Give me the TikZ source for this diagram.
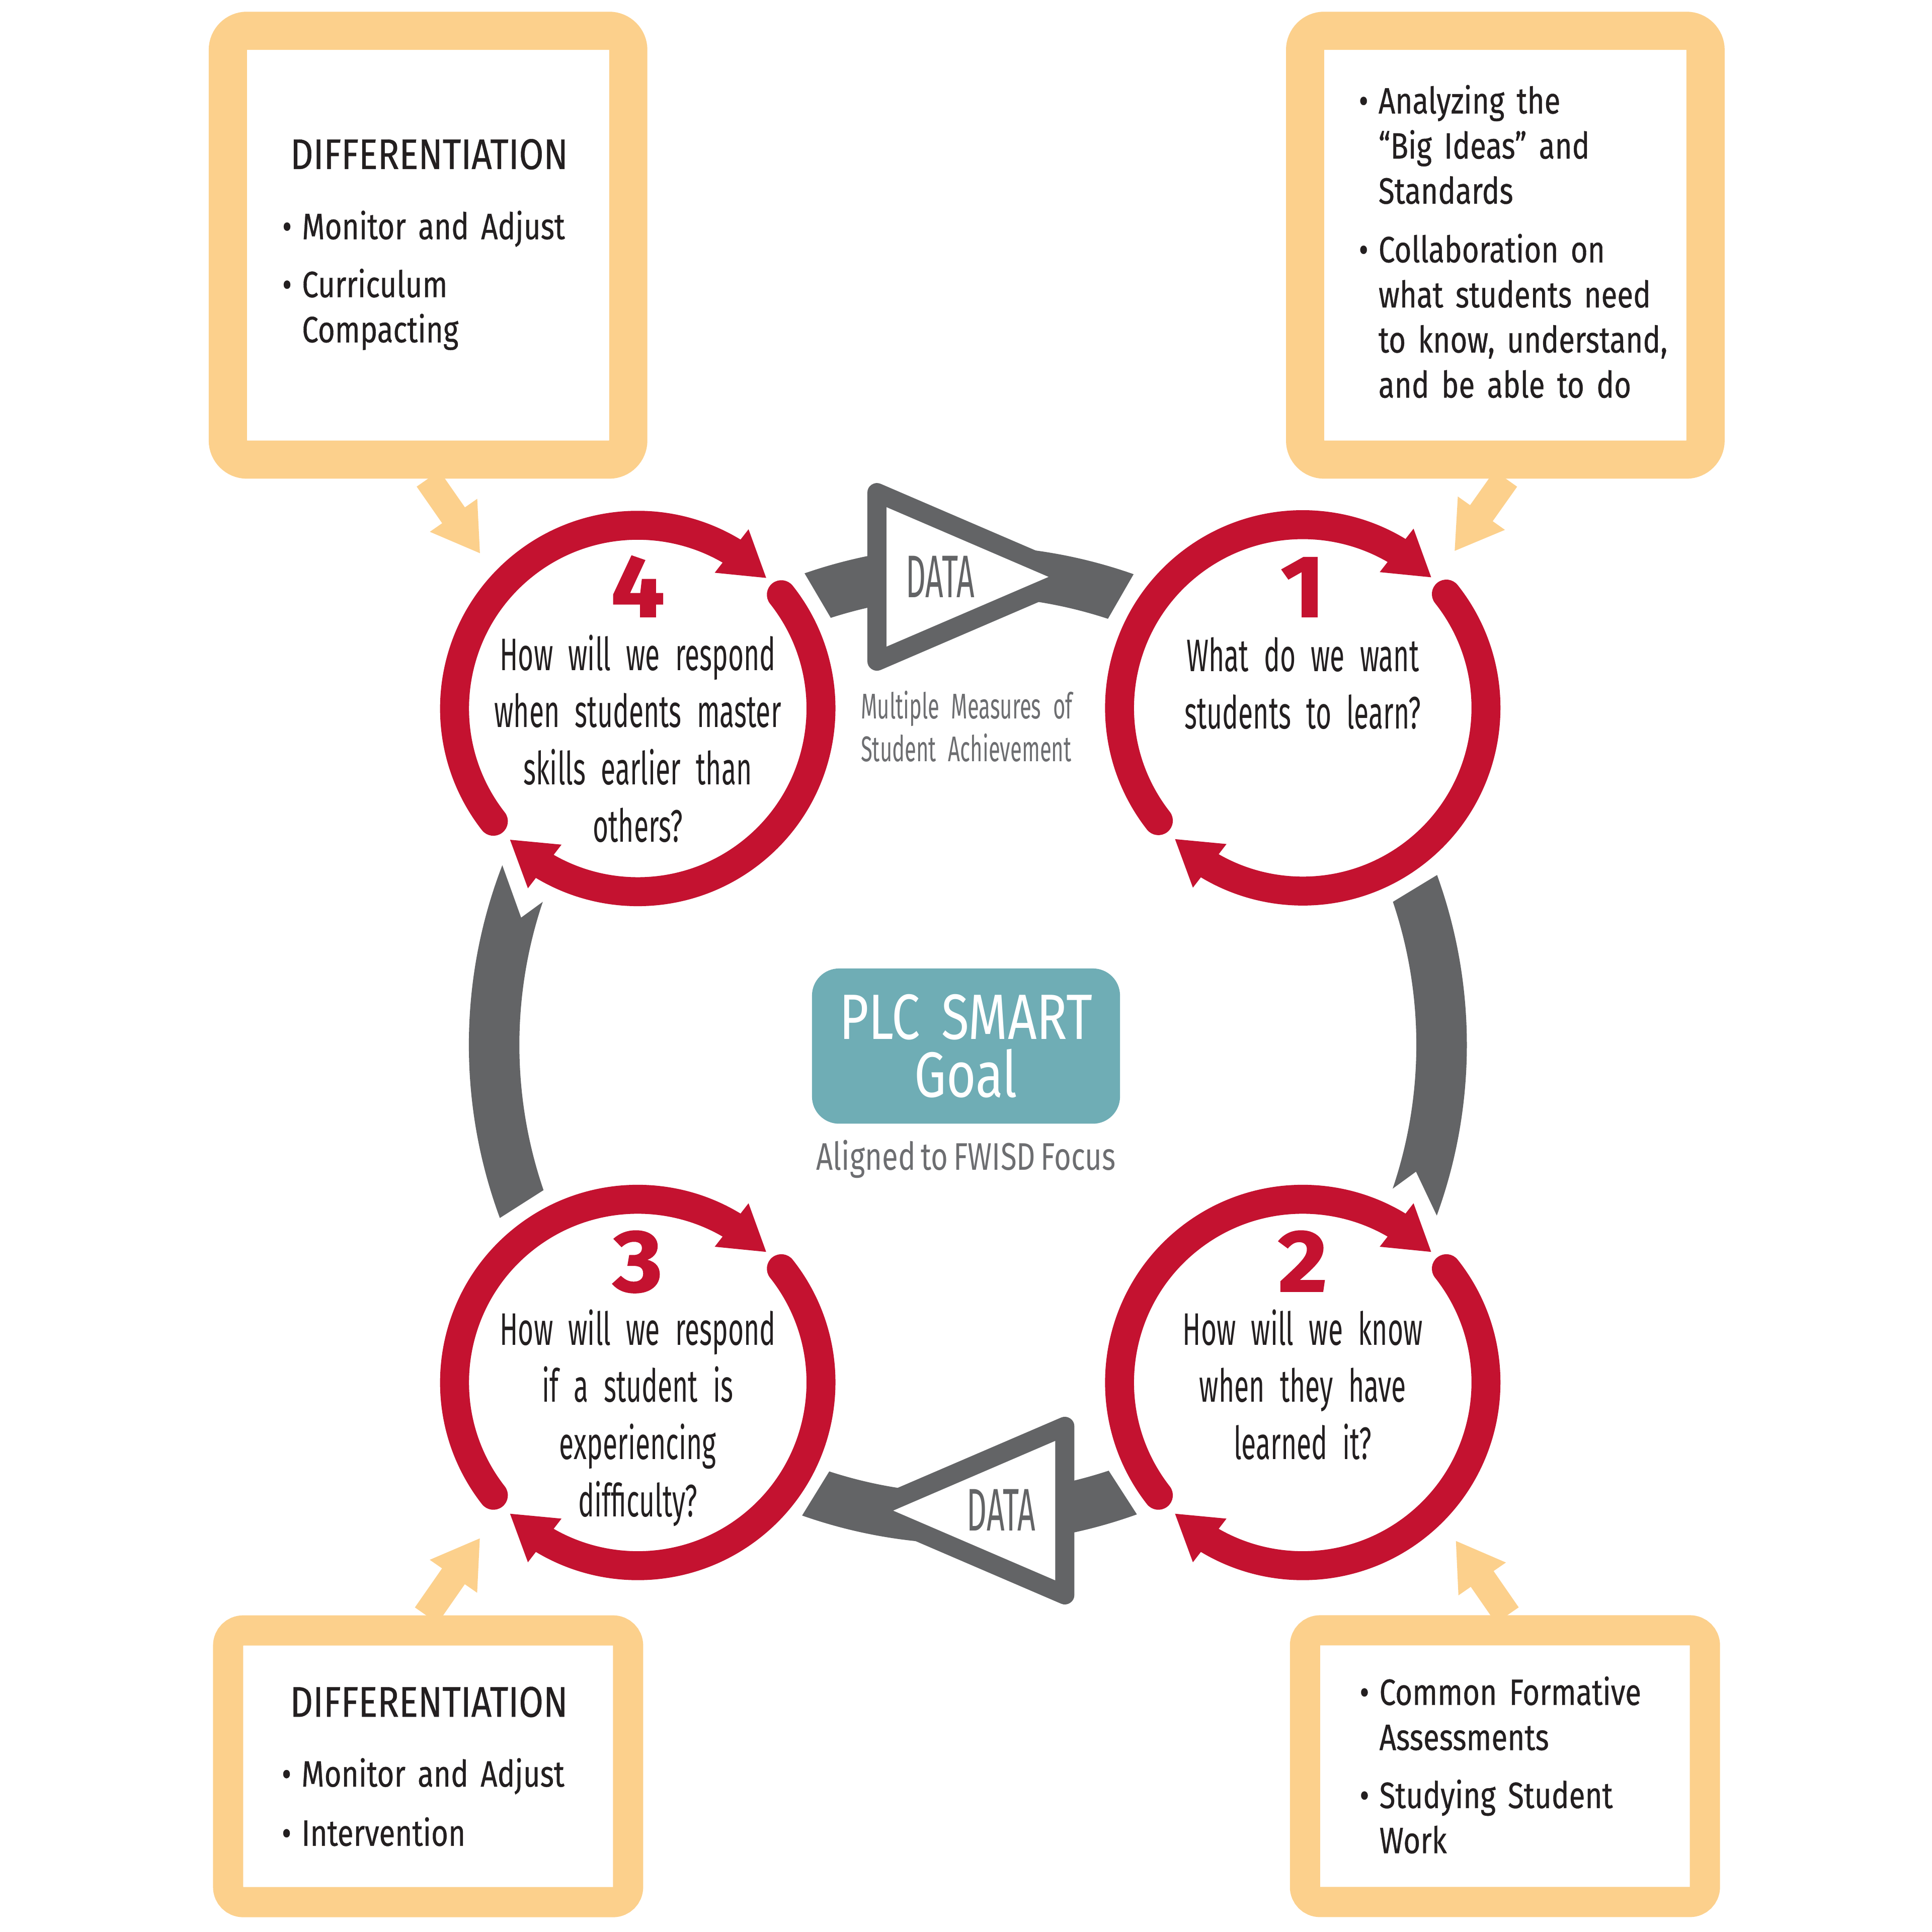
\documentclass[tikz,border=0pt]{standalone}
\usepackage{fontspec}
\setmainfont{Fira Sans}
\newfontfamily\qfont[FakeStretch=0.59,WordSpace=0.3]{Fira Sans}
\newfontfamily\headfont[FakeStretch=0.83,FakeBold=0.5]{Fira Sans}
\newfontfamily\boxfont[FakeStretch=0.80,WordSpace=0.75,FakeBold=0.5]{Fira Sans}
\newfontfamily\goalfont[FakeStretch=0.79]{Fira Sans}
\newfontfamily\alignfont[FakeStretch=0.76,WordSpace=0.7]{Fira Sans}
\newfontfamily\datafont[FakeStretch=0.52]{Fira Sans}
\newfontfamily\numfont[FakeStretch=1.08,FakeBold=1.5]{Fira Sans}
\usepackage{tikz}
\usetikzlibrary{positioning,arrows.meta,bending,calc}
\definecolor{cream}{HTML}{FCD08C}
\definecolor{crimson}{HTML}{C41230}
\definecolor{slate}{HTML}{636466}
\definecolor{goalteal}{HTML}{6FADB5}
\definecolor{ink}{HTML}{231F20}
\definecolor{mist}{HTML}{6D6E71}
\newcommand\bitem{\makebox[16pt][l]{\textbullet}}
\newcommand\bcont{\hspace*{16pt}}

\begin{document}
\begin{tikzpicture}[x=1pt,y=-1pt,
  every node/.style={inner sep=0pt,text=ink},
  topbox/.style={draw=cream,fill=white,line width=31pt,rounded corners=15.5pt,minimum width=325pt,minimum height=348pt},
  lowbox/.style={draw=cream,fill=white,line width=24.5pt,rounded corners=12.25pt,minimum width=324.6pt,minimum height=220.5pt},
  head/.style={font=\headfont\fontsize{34.8}{40}\selectfont,anchor=base},
  items/.style={font=\boxfont\fontsize{29.75}{36.6}\selectfont,anchor=base west,align=left,text width=290pt},
  pointer/.style={-{Triangle[width=44pt,length=38pt]},draw=cream,line width=22.5pt},
  ring/.style={-{Triangle[width=42pt,length=36pt]},draw=crimson,line width=23.5pt,line cap=round},
  num/.style={font=\numfont\bfseries\fontsize{71}{71}\selectfont,text=crimson,anchor=base},
  question/.style={font=\qfont\fontsize{37}{46.5}\selectfont,anchor=base,align=center,text width=280pt},
  band/.style={fill=slate},
  datatri/.style={draw=slate,fill=white,line width=15.5pt,line join=round},
  datatag/.style={font=\datafont\fontsize{48.8}{48.8}\selectfont,text=slate},
  goal/.style={fill=goalteal,rounded corners=22pt,minimum width=250pt,minimum height=126pt,align=center,text width=250pt,text=white,font=\goalfont\fontsize{52}{47.3}\selectfont},
  note/.style={text=mist}]
  \path[use as bounding box,fill=white] (0,0) rectangle (1568,1567.6);

  % callout boxes
  \node[topbox] (tlbox) at (347.4,199) {};
  \node[topbox] (trbox) at (1221.7,199) {};
  \node[lowbox] (blbox) at (347.45,1433.5) {};
  \node[lowbox] (brbox) at (1221.4,1433.4) {};
  \node[head] (tlhead) at (348.3,137.2) {DIFFERENTIATION};
  \node[items] (tlbody) at (228.9,194.1) {\bitem Monitor and Adjust\\[10.5pt]\bitem Curriculum\\\bcont Compacting};
  \node[items] (trbody) at (1102.6,92.1) {\bitem Analyzing the\\\bcont “Big Ideas” and\\\bcont Standards\\[11pt]\bitem Collaboration on\\\bcont what students need\\\bcont to know, understand,\\\bcont and be able to do};
  \node[head] (blhead) at (348.1,1393.3) {DIFFERENTIATION};
  \node[items] (blbody) at (228.5,1450) {\bitem Monitor and Adjust\\[11.4pt]\bitem Intervention};
  \node[items] (brbody) at (1103.3,1383.7) {\bitem Common Formative\\\bcont Assessments\\[10.5pt]\bitem Studying Student\\\bcont Work};

  % circle centres
  \coordinate (c4) at (517.6,575);
  \coordinate (c1) at (1057.3,574.5);
  \coordinate (c3) at (517.6,1122);
  \coordinate (c2) at (1057.3,1122);

  % box pointers
  \draw[pointer] (tlbox.south) -- ($(c4)+(-127.8,-125.6)$);
  \draw[pointer] ([xshift=0.4pt]trbox.south) -- ($(c1)+(123,-127)$);
  \draw[pointer] ([xshift=-1.5pt]blbox.north) -- ($(c3)+(-127.9,126.1)$);
  \draw[pointer] ([xshift=1.9pt]brbox.north) -- ($(c2)+(124,128.2)$);

  % grey cycle
  \coordinate (hub) at (785.5,848);
  \fill[band] ($(hub)+(-107.8:364)$) -- ($(hub)+(-109.1:405)$) arc[start angle=-109.1,end angle=-70.6,radius=405] -- ($(hub)+(-71.8:364)$) arc[start angle=-71.8,end angle=-107.8,radius=364] -- cycle;
  \fill[band] ($(hub)+(108:364)$) -- ($(hub)+(109.4:405)$) arc[start angle=109.4,end angle=70.2,radius=405] -- ($(hub)+(71.7:364)$) arc[start angle=71.7,end angle=108,radius=364] -- cycle;
  \fill[band] ($(hub)+(-18.6:364)$) -- ($(hub)+(-19.9:405)$) arc[start angle=-19.9,end angle=20,radius=405] -- ($(hub)+(15.8:378)$) -- ($(hub)+(18.7:364)$) arc[start angle=18.7,end angle=-18.6,radius=364] -- cycle;
  \fill[band] ($(hub)+(161.1:364)$) -- ($(hub)+(159.7:405)$) arc[start angle=159.7,end angle=201.1,radius=405] -- ($(hub)+(195.9:377)$) -- ($(hub)+(198.6:364)$) arc[start angle=198.6,end angle=161.1,radius=364] -- cycle;
  \draw[datatri] (711.7,399.8) -- (711.7,536.6) -- (870.7,468.2) -- cycle;
  \node[datatag] (dTop) at (763,468) {DATA};
  \draw[datatri] (864.2,1157.6) -- (864.2,1294.4) -- (705.2,1226) -- cycle;
  \node[datatag] (dBot) at (812.6,1225.4) {DATA};
  \node[note,font=\qfont\fontsize{29}{34.6}\selectfont,anchor=base west,align=left,text width=200pt] (measures) at (698.5,583.5) {Multiple Measures of\\Student Achievement};

  % red question rings
  \draw[ring] ($(c4)+(142:148.7)$) arc[start angle=142,end angle=314.7,radius=148.7];
  \draw[ring] ($(c4)+(321.6:148.7)$) arc[start angle=321.6,end angle=494.4,radius=148.7];
  \draw[ring] ($(c1)+(142:148.7)$) arc[start angle=142,end angle=314.7,radius=148.7];
  \draw[ring] ($(c1)+(321.6:148.7)$) arc[start angle=321.6,end angle=494.4,radius=148.7];
  \draw[ring] ($(c3)+(142:148.7)$) arc[start angle=142,end angle=314.7,radius=148.7];
  \draw[ring] ($(c3)+(321.6:148.7)$) arc[start angle=321.6,end angle=494.4,radius=148.7];
  \draw[ring] ($(c2)+(142:148.7)$) arc[start angle=142,end angle=314.7,radius=148.7];
  \draw[ring] ($(c2)+(321.6:148.7)$) arc[start angle=321.6,end angle=494.4,radius=148.7];
  \node[num] (n4) at (517.6,500.5) {4};
  \node[question] (q4) at (517.6,543.9) {How will we respond\\when students master\\skills earlier than\\others?};
  \node[num] (n1) at (1057.3,500.5) {1};
  \node[question] (q1) at (1057.3,545) {What do we want\\students to learn?};
  \node[num] (n3) at (517.6,1048) {3};
  \node[question] (q3) at (517.6,1091.5) {How will we respond\\if a student is\\experiencing\\difficulty?};
  \node[num] (n2) at (1057.3,1048) {2};
  \node[question] (q2) at (1057.3,1091.5) {How will we know\\when they have\\learned it?};

  % centre goal
  \node[goal] (goal) at (784,849) {PLC SMART\\Goal};
  \node[note,font=\alignfont\fontsize{31.2}{31.2}\selectfont,below=13pt of goal] (focus) {Aligned to FWISD Focus};
\end{tikzpicture}
\end{document}
